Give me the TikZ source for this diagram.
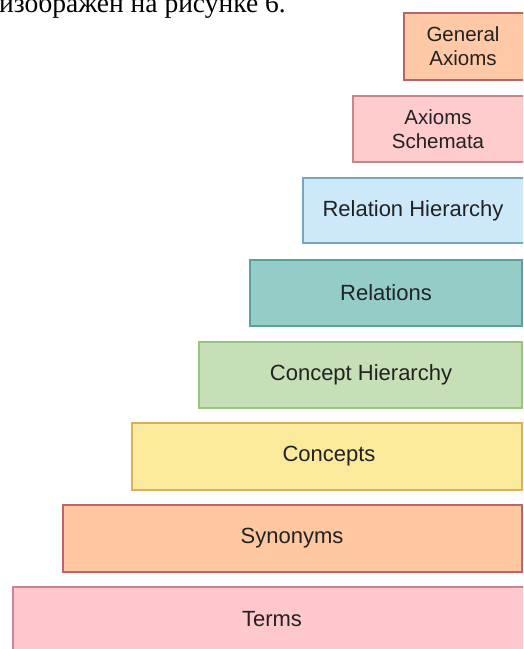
\documentclass[tikz,border=0pt]{standalone}
\usepackage{fontspec}
\setmainfont{Liberation Sans}
\newfontfamily\serifcyr{Liberation Serif}
\definecolor{gaFill}{HTML}{FFC8A6}\definecolor{gaLine}{HTML}{B86468}
\definecolor{asFill}{HTML}{FFCCCE}\definecolor{asLine}{HTML}{C8848C}
\definecolor{rhFill}{HTML}{CDE8F8}\definecolor{rhLine}{HTML}{74A8BE}
\definecolor{reFill}{HTML}{94CDC8}\definecolor{reLine}{HTML}{5BA398}
\definecolor{chFill}{HTML}{C6DFB6}\definecolor{chLine}{HTML}{96C67C}
\definecolor{coFill}{HTML}{FCEA9C}\definecolor{coLine}{HTML}{D8B25A}
\definecolor{syFill}{HTML}{FFC8A0}\definecolor{syLine}{HTML}{C0646C}
\definecolor{teFill}{HTML}{FFC8CC}\definecolor{teLine}{HTML}{CC8494}
\definecolor{txt}{HTML}{222222}
\tikzset{
  layer/.style={draw, line width=1.4pt},
  lbl/.style={text=txt, align=center, inner sep=0pt, font=\fontsize{22}{26}\selectfont},
  lbltwo/.style={lbl, font=\fontsize{20.5}{24}\selectfont},
}
\begin{document}
\begin{tikzpicture}[x=1pt,y=-1pt]
\useasboundingbox (0,0) rectangle (523,649);
\clip (0,0) rectangle (523,649);
\node[anchor=base west, inner sep=0pt, font=\serifcyr\fontsize{27.5}{30}\selectfont] (cap) at (-1,12) {изображен на рисунке 6.};
\path[layer, fill=gaFill, draw=gaLine] (404,13) rectangle (530,80);
\node[lbltwo] (ga) at (463,46) {General\\Axioms};
\path[layer, fill=asFill, draw=asLine] (353,96) rectangle (530,162);
\node[lbltwo] (as) at (438,129) {Axioms\\Schemata};
\path[layer, fill=rhFill, draw=rhLine] (303,178) rectangle (530,243);
\node[lbl] (rh) at (413,210.5) {Relation Hierarchy};
\path[layer, fill=reFill, draw=reLine] (250,260) rectangle (522,326);
\node[lbl] (re) at (386,293) {Relations};
\path[layer, fill=chFill, draw=chLine] (199,342) rectangle (522,408);
\node[lbl] (ch) at (361,375) {Concept Hierarchy};
\path[layer, fill=coFill, draw=coLine] (132,423) rectangle (522,490);
\node[lbl] (co) at (329,456.5) {Concepts};
\path[layer, fill=syFill, draw=syLine] (63,505) rectangle (522,572);
\node[lbl] (sy) at (292,538.5) {Synonyms};
\path[layer, fill=teFill, draw=teLine] (13,587) rectangle (534,670);
\node[lbl] (te) at (272,619) {Terms};
\end{tikzpicture}
\end{document}
